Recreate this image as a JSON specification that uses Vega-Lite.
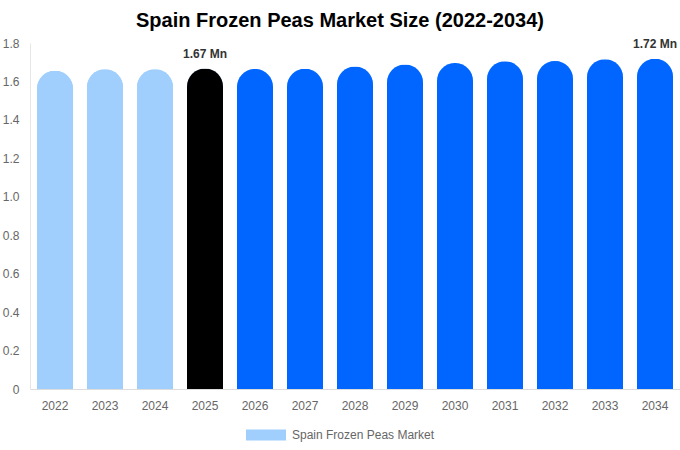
{
  "$schema": "https://vega.github.io/schema/vega-lite/v6.json",
  "width": 650,
  "height": 346,
  "autosize": "none",
  "padding": {"left": 30, "top": 43, "right": 0, "bottom": 61},
  "background": "white",
  "config": {
    "view": {"stroke": null},
    "font": "Liberation Sans"
  },
  "title": {
    "text": "Spain Frozen Peas Market Size (2022-2034)",
    "fontSize": 20,
    "fontWeight": "bold",
    "color": "#000000",
    "font": "Liberation Sans",
    "anchor": "middle",
    "dx": -15,
    "offset": 6
  },
  "data": {
    "values": [
      {"year": "2022", "value": 1.655, "phase": "hist", "series": "Spain Frozen Peas Market", "label": ""},
      {"year": "2023", "value": 1.663, "phase": "hist", "series": "Spain Frozen Peas Market", "label": ""},
      {"year": "2024", "value": 1.664, "phase": "hist", "series": "Spain Frozen Peas Market", "label": ""},
      {"year": "2025", "value": 1.667, "phase": "base", "series": "Spain Frozen Peas Market", "label": "1.67 Mn"},
      {"year": "2026", "value": 1.665, "phase": "fcst", "series": "Spain Frozen Peas Market", "label": ""},
      {"year": "2027", "value": 1.666, "phase": "fcst", "series": "Spain Frozen Peas Market", "label": ""},
      {"year": "2028", "value": 1.678, "phase": "fcst", "series": "Spain Frozen Peas Market", "label": ""},
      {"year": "2029", "value": 1.688, "phase": "fcst", "series": "Spain Frozen Peas Market", "label": ""},
      {"year": "2030", "value": 1.696, "phase": "fcst", "series": "Spain Frozen Peas Market", "label": ""},
      {"year": "2031", "value": 1.705, "phase": "fcst", "series": "Spain Frozen Peas Market", "label": ""},
      {"year": "2032", "value": 1.706, "phase": "fcst", "series": "Spain Frozen Peas Market", "label": ""},
      {"year": "2033", "value": 1.716, "phase": "fcst", "series": "Spain Frozen Peas Market", "label": ""},
      {"year": "2034", "value": 1.718, "phase": "fcst", "series": "Spain Frozen Peas Market", "label": "1.72 Mn"}
    ]
  },
  "encoding": {
    "x": {
      "field": "year",
      "type": "ordinal",
      "scale": {"paddingInner": 0.28, "paddingOuter": 0.14},
      "axis": {
        "title": null,
        "labelAngle": 0,
        "labelColor": "#666666",
        "labelFontSize": 12,
        "labelPadding": 11,
        "ticks": false,
        "domainColor": "#dddddd",
        "grid": false
      }
    },
    "y": {
      "field": "value",
      "type": "quantitative",
      "scale": {"domain": [0, 1.8], "nice": false},
      "axis": {
        "title": null,
        "values": [0, 0.2, 0.4, 0.6, 0.8, 1.0, 1.2, 1.4, 1.6, 1.8],
        "labelExpr": "datum.value == 0 ? '0' : format(datum.value, '.1f')",
        "labelColor": "#666666",
        "labelFontSize": 12,
        "labelPadding": 11,
        "ticks": false,
        "grid": false,
        "domainColor": "#e6e6e6"
      }
    }
  },
  "layer": [
    {
      "mark": {"type": "bar", "cornerRadiusTopLeft": 18, "cornerRadiusTopRight": 18},
      "encoding": {
        "fill": {
          "field": "series",
          "type": "nominal",
          "scale": {"range": ["#a0cffe"]},
          "legend": {
            "title": null,
            "orient": "none",
            "legendX": 216,
            "legendY": 372,
            "symbolType": "M-1,-0.28L1,-0.28L1,0.28L-1,0.28Z",
            "symbolSize": 1600,
            "symbolStrokeWidth": 0,
            "labelColor": "#666666",
            "labelFontSize": 12,
            "labelOffset": 6
          }
        }
      }
    },
    {
      "mark": {"type": "bar", "cornerRadiusTopLeft": 18, "cornerRadiusTopRight": 18},
      "encoding": {
        "color": {
          "field": "phase",
          "type": "nominal",
          "scale": {"domain": ["hist", "base", "fcst"], "range": ["#a0cffe", "#000000", "#0066ff"]},
          "legend": null
        }
      }
    },
    {
      "mark": {"type": "text", "baseline": "bottom", "dy": -8, "fontSize": 12, "fontWeight": "bold", "color": "#333333"},
      "encoding": {
        "text": {"field": "label"}
      }
    }
  ]
}
